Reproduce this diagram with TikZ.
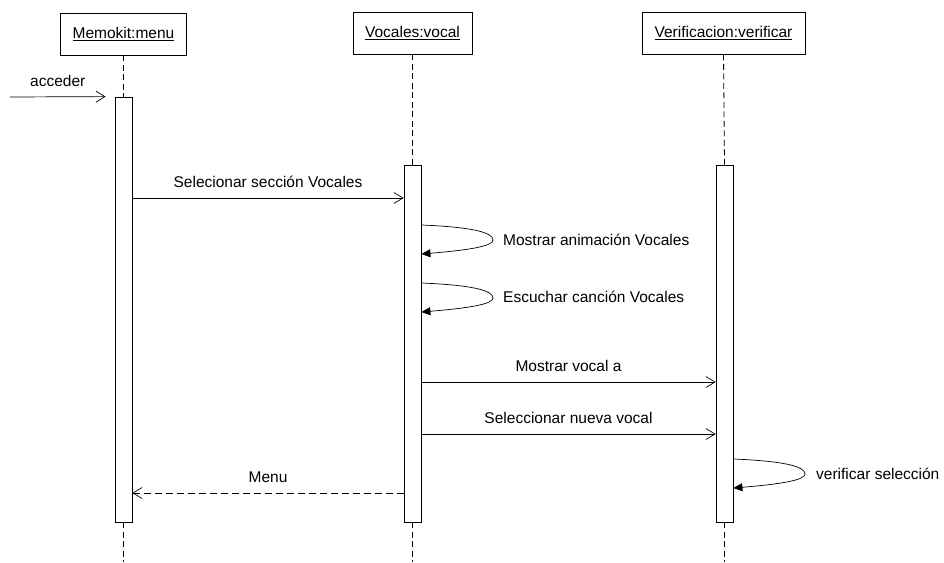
\documentclass[tikz,border=0pt]{standalone}
\usepackage{fontspec}
\setmainfont{Liberation Sans}
\usetikzlibrary{arrows.meta,calc}
\begin{document}
\begin{tikzpicture}[x=1pt,y=-1pt,
  every node/.style={font=\fontsize{15.5}{18}\selectfont, inner sep=0pt},
  objbox/.style={draw, line width=0.8pt, minimum height=42pt},
  actbox/.style={draw, line width=0.8pt, fill=white, minimum width=17pt},
  life/.style={line width=0.8pt, dash pattern=on 6pt off 3.5pt},
  msg/.style={line width=0.7pt, -{Straight Barb[length=9pt,width=11pt,line width=0.7pt]}},
  ret/.style={msg, dash pattern=on 7pt off 4pt},
  selfmsg/.style={line width=0.7pt, -{Triangle[length=9pt,width=8pt]}},
  lbl/.style={midway, above=10pt}
]
\useasboundingbox (0,0) rectangle (944,562);

% objects
\node[objbox, minimum width=126pt] (m) at (123.5,34) {\underline{Memokit:menu}};
\node[objbox, minimum width=119pt] (v) at (412.5,33) {\underline{Vocales:vocal}};
\node[objbox, minimum width=163pt] (f) at (723.5,33) {\underline{Verificacion:verificar}};

% activation boxes
\node[actbox, minimum height=425pt] (mA) at (123.5,309.5) {};
\node[actbox, minimum height=357pt] (vA) at (412.5,343.5) {};
\node[actbox, minimum height=357pt] (fA) at (724.5,343.5) {};

\coordinate (mEnd) at (123.5,562);
\coordinate (vEnd) at (412.5,562);
\coordinate (fEnd) at (724.5,562);
\coordinate (acc) at (10,97);

% lifelines
\draw[life] (m.south) -- (mA.north);
\draw[life] (mA.south) -- (mEnd);
\draw[life] (v.south) -- (vA.north);
\draw[life] (vA.south) -- (vEnd);
\draw[life] (f.south) -- (fA.north);
\draw[life] (fA.south) -- (fEnd);

% messages
\draw[msg] (acc) -- ([xshift=-9pt]mA.north west) node[lbl] {acceder};
\draw[msg] (mA.east |- 0,198) -- (vA.west |- 0,198) node[lbl] {Selecionar sección Vocales};
\draw[selfmsg] (vA.east |- 0,225) .. controls (470,227) and (493,232) .. (493,240)
  .. controls (493,246) and (470,250) .. (vA.east |- 0,254);
\node[anchor=west] (s1) at (503,240) {Mostrar animación Vocales};
\draw[selfmsg] (vA.east |- 0,283) .. controls (470,285) and (493,290) .. (493,298)
  .. controls (493,304) and (470,308) .. (vA.east |- 0,312);
\node[anchor=west] (s2) at (503,297) {Escuchar canción Vocales};
\draw[msg] (vA.east |- 0,382) -- (fA.west |- 0,382) node[lbl] {Mostrar vocal a};
\draw[msg] (vA.east |- 0,434) -- (fA.west |- 0,434) node[lbl] {Seleccionar nueva vocal};
\draw[selfmsg] (fA.east |- 0,459) .. controls (782,461) and (805,466) .. (805,474)
  .. controls (805,480) and (782,484) .. (fA.east |- 0,488);
\node[anchor=west] (s3) at (816,474) {verificar selección};
\draw[ret] (vA.west |- 0,493) -- (mA.east |- 0,493) node[lbl] {Menu};
\end{tikzpicture}
\end{document}
